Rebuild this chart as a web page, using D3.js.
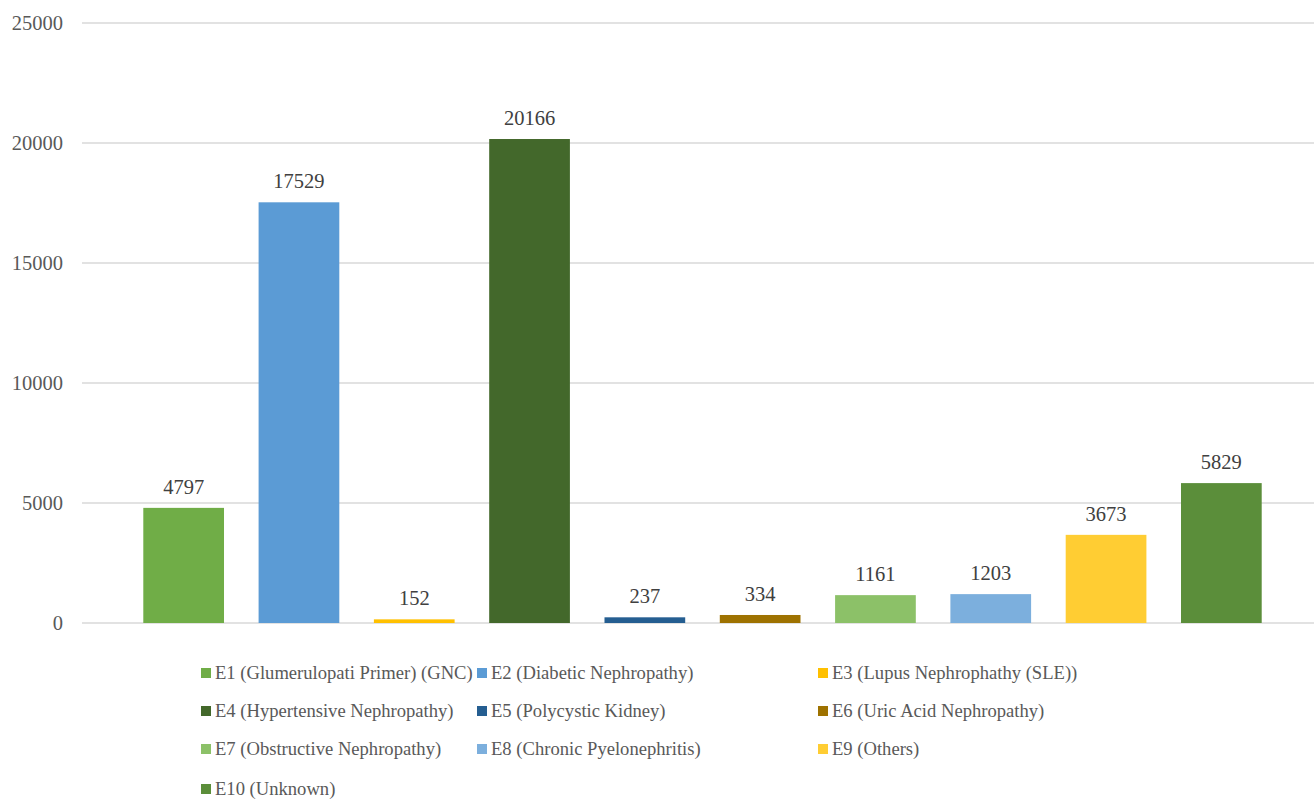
<!DOCTYPE html>
<html>
<head>
<meta charset="utf-8">
<script src="https://cdn.jsdelivr.net/npm/d3@7"></script>
</head>
<body style="margin:0">
<svg width="1314" height="800"></svg>
<script>
// chart data
const codes = ["E1", "E2", "E3", "E4", "E5", "E6", "E7", "E8", "E9", "E10"];
const names = [
  "E1 (Glumerulopati Primer) (GNC)", "E2 (Diabetic Nephropathy)", "E3 (Lupus Nephrophathy (SLE))",
  "E4 (Hypertensive Nephropathy)", "E5 (Polycystic Kidney)", "E6 (Uric Acid Nephropathy)",
  "E7 (Obstructive Nephropathy)", "E8 (Chronic Pyelonephritis)", "E9 (Others)",
  "E10 (Unknown)"
];
const counts = [4797, 17529, 152, 20166, 237, 334, 1161, 1203, 3673, 5829];
const yTicks = [0, 5000, 10000, 15000, 20000, 25000];
const colors = ["#70AD47", "#5B9BD5", "#FFC000", "#43682B", "#255E91",
                "#9E7200", "#8CC168", "#7CAFDD", "#FFCD33", "#5B8E3A"];

const fontFam = '"Liberation Serif"';
const svg = d3.select("svg");

// plot area
const gridLeft = 82, gridRight = 1314;
const plotTop = 23, plotBottom = 623;

const x = d3.scaleBand().domain(codes).range([126, 1279]).paddingInner(0.3).paddingOuter(0.15);
const y = d3.scaleLinear().domain([0, 25000]).range([plotBottom, plotTop]);
const color = d3.scaleOrdinal().domain(codes).range(colors);

// gridlines + y labels
svg.append("g").selectAll("line")
  .data(yTicks).enter().append("line")
  .attr("x1", gridLeft).attr("x2", gridRight)
  .attr("y1", d => y(d)).attr("y2", d => y(d))
  .attr("stroke", "#d9d9d9").attr("stroke-width", 1.3);

svg.append("g").selectAll("text")
  .data(yTicks).enter().append("text")
  .attr("x", 63).attr("y", d => y(d))
  .attr("dy", "0.33em")
  .attr("text-anchor", "end")
  .style("font-family", fontFam)
  .attr("font-size", "20.5px")
  .attr("fill", "#595959")
  .text(d => d);

// bars
svg.append("g").selectAll("rect")
  .data(counts).enter().append("rect")
  .attr("x", (d, i) => x(codes[i]))
  .attr("width", x.bandwidth())
  .attr("y", d => y(d))
  .attr("height", d => plotBottom - y(d))
  .attr("fill", (d, i) => color(codes[i]));

// value labels
svg.append("g").selectAll("text")
  .data(counts).enter().append("text")
  .attr("x", (d, i) => x(codes[i]) + x.bandwidth() / 2)
  .attr("y", d => y(d) - 14)
  .attr("text-anchor", "middle")
  .style("font-family", fontFam)
  .attr("font-size", "20.5px")
  .attr("fill", "#404040")
  .text(d => d);

// legend, 3 columns
const colX = [201, 477, 818];
const rowY = [673, 711, 749, 789];
const legend = svg.append("g").selectAll("g")
  .data(names).enter().append("g")
  .attr("transform", (d, i) => `translate(${colX[i % 3]}, ${rowY[Math.floor(i / 3)]})`);

legend.append("rect")
  .attr("x", 0).attr("y", -5).attr("width", 10).attr("height", 10)
  .attr("fill", (d, i) => color(codes[i]));

legend.append("text")
  .attr("x", 14).attr("dy", "0.33em")
  .style("font-family", fontFam)
  .attr("font-size", "18.6px")
  .attr("fill", "#595959")
  .text(d => d);
</script>
</body>
</html>
